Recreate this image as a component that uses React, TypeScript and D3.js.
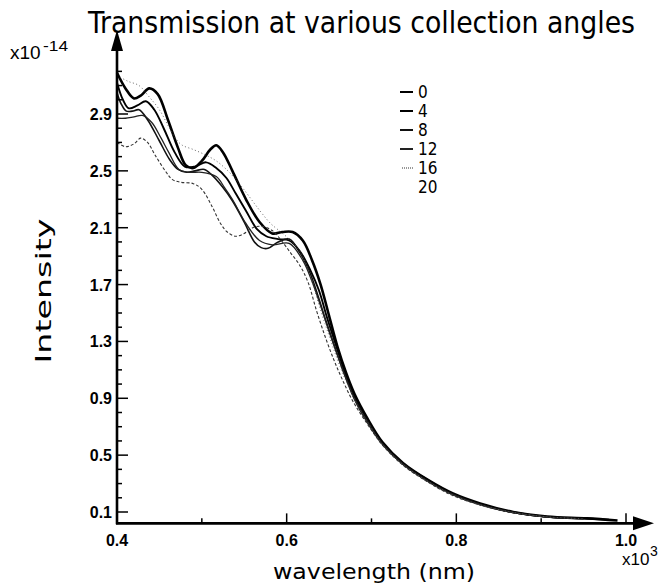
import React from "react";
import * as d3 from "d3";

const angles = ["0", "4", "8", "12", "16", "20"];

const wl0 = [0.4, 0.41, 0.42, 0.428, 0.438, 0.448, 0.46, 0.472, 0.481, 0.49, 0.5, 0.51, 0.517, 0.525, 0.536, 0.552, 0.568, 0.583, 0.595, 0.607, 0.619, 0.63, 0.64, 0.65, 0.66, 0.67, 0.68, 0.695, 0.713, 0.737, 0.768, 0.796, 0.828, 0.867, 0.907, 0.954, 0.99];
const int0 = [3.19, 3.08, 3.01, 3.03, 3.08, 3.04, 2.86, 2.66, 2.54, 2.52, 2.57, 2.65, 2.68, 2.63, 2.5, 2.3, 2.14, 2.06, 2.07, 2.07, 2.01, 1.87, 1.7, 1.48, 1.26, 1.08, 0.93, 0.76, 0.59, 0.445, 0.32, 0.23, 0.16, 0.1, 0.068, 0.055, 0.04];

const wl4 = [0.4, 0.407, 0.414, 0.424, 0.434, 0.444, 0.455, 0.468, 0.48, 0.492, 0.505, 0.517, 0.529, 0.54, 0.552, 0.565, 0.576, 0.59, 0.603, 0.615, 0.628, 0.638, 0.648, 0.66, 0.67, 0.68, 0.695, 0.713, 0.737, 0.768, 0.796, 0.828, 0.867, 0.907, 0.954, 0.98];
const int4 = [3.12, 3.0, 2.94, 2.96, 2.99, 2.93, 2.8, 2.63, 2.53, 2.53, 2.56, 2.52, 2.45, 2.34, 2.22, 2.09, 2.04, 2.02, 2.01, 1.94, 1.8, 1.66, 1.46, 1.24, 1.06, 0.92, 0.75, 0.58, 0.44, 0.32, 0.225, 0.155, 0.098, 0.066, 0.054, 0.045];

const wl8 = [0.4, 0.405, 0.411, 0.418, 0.426, 0.436, 0.45, 0.462, 0.472, 0.482, 0.492, 0.503, 0.512, 0.524, 0.536, 0.55, 0.562, 0.57, 0.578, 0.59, 0.603, 0.615, 0.627, 0.637, 0.646, 0.658, 0.668, 0.68, 0.695, 0.713, 0.737, 0.768, 0.796, 0.828, 0.867, 0.907, 0.95];
const int8 = [3.05, 2.97, 2.92, 2.92, 2.93, 2.86, 2.71, 2.58, 2.51, 2.49, 2.5, 2.51, 2.47, 2.39, 2.29, 2.14, 2.0, 1.96, 1.955, 2.0, 2.02, 1.93, 1.79, 1.62, 1.45, 1.24, 1.07, 0.9, 0.74, 0.58, 0.44, 0.31, 0.225, 0.155, 0.098, 0.066, 0.052];

const wl12 = [0.4, 0.41, 0.42, 0.43, 0.441, 0.452, 0.461, 0.473, 0.485, 0.5, 0.517, 0.527, 0.536, 0.552, 0.568, 0.583, 0.603, 0.619, 0.63, 0.64, 0.65, 0.66, 0.67, 0.68, 0.695, 0.713, 0.737, 0.768, 0.796, 0.828, 0.867, 0.907, 0.94];
const int12 = [2.87, 2.87, 2.88, 2.89, 2.84, 2.73, 2.63, 2.51, 2.49, 2.49, 2.46, 2.38, 2.3, 2.13, 2.01, 1.98, 1.99, 1.87, 1.72, 1.55, 1.37, 1.2, 1.04, 0.89, 0.73, 0.575, 0.435, 0.31, 0.22, 0.15, 0.095, 0.064, 0.055];

const wl16 = [0.4, 0.41, 0.42, 0.428, 0.436, 0.445, 0.458, 0.465, 0.475, 0.49, 0.5, 0.512, 0.522, 0.53, 0.54, 0.55, 0.56, 0.57, 0.583, 0.595, 0.605, 0.615, 0.625, 0.635, 0.645, 0.655, 0.665, 0.678, 0.695, 0.713, 0.737, 0.768, 0.796, 0.828, 0.867, 0.907];
const int16 = [2.7, 2.67, 2.69, 2.73, 2.7, 2.61, 2.49, 2.44, 2.42, 2.41, 2.37, 2.25, 2.13, 2.07, 2.04, 2.06, 2.1, 2.11, 2.08, 2.0, 1.92, 1.84, 1.72, 1.52, 1.34, 1.18, 1.04, 0.88, 0.72, 0.57, 0.43, 0.305, 0.215, 0.15, 0.095, 0.065];

const wl20 = [0.4, 0.413, 0.426, 0.438, 0.45, 0.461, 0.47, 0.477, 0.49, 0.505, 0.517, 0.529, 0.54, 0.552, 0.562, 0.571, 0.581, 0.591, 0.603, 0.615, 0.622, 0.63, 0.64, 0.65, 0.66, 0.67, 0.682, 0.697, 0.713, 0.737, 0.768, 0.796, 0.828, 0.867, 0.907, 0.95];
const int20 = [3.17, 3.13, 3.1, 3.02, 2.93, 2.81, 2.72, 2.68, 2.65, 2.61, 2.57, 2.51, 2.44, 2.35, 2.27, 2.2, 2.13, 2.08, 2.02, 1.94, 1.86, 1.72, 1.52, 1.34, 1.17, 1.02, 0.87, 0.72, 0.575, 0.435, 0.31, 0.22, 0.15, 0.097, 0.066, 0.053];

const yTickLabels = ["0.1", "0.5", "0.9", "1.3", "1.7", "2.1", "2.5", "2.9"];
const xTickLabels = ["0.4", "0.6", "0.8", "1.0"];

const seriesWl = [wl0, wl4, wl8, wl12, wl16, wl20];
const seriesInt = [int0, int4, int8, int12, int16, int20];

const styles = [
  { w: 2.6, dash: "", color: "#000" },
  { w: 1.9, dash: "", color: "#000" },
  { w: 1.6, dash: "", color: "#111" },
  { w: 1.3, dash: "", color: "#222" },
  { w: 1.1, dash: "3,2", color: "#333" },
  { w: 0.9, dash: "1,2.5", color: "#555" },
];

export default function App() {
  const W = 670, H = 587;
  const x = d3.scaleLinear().domain([0.4, 1.0]).range([117, 626]);
  const y = d3.scaleLinear().domain([0.1, 2.9]).range([512, 114]);
  const x0 = x(0.4);
  const yBase = y(0.02);
  const line = d3
    .line<[number, number]>()
    .x((d) => x(d[0]))
    .y((d) => y(d[1]))
    .curve(d3.curveCatmullRom.alpha(0.5));

  const yMinor = d3.range(1, 33).map((i) => i / 10);
  const xMinor = [0.5, 0.7, 0.9];
  const tickFont = "'Liberation Sans', Arial, sans-serif";
  const textFont = "'DejaVu Sans Condensed', 'DejaVu Sans', sans-serif";

  return (
    <svg width={W} height={H} style={{ position: "absolute", left: 0, top: 0, background: "#fff" }}>
      <rect x={0} y={0} width={W} height={H} fill="#fff" />
      <text x={88} y={33} fontFamily={textFont} fontSize={30} textLength={547} lengthAdjust="spacingAndGlyphs" fill="#000">
        Transmission at various collection angles
      </text>

      {/* curves */}
      {seriesWl.map((wl, i) => {
        const pts: [number, number][] = wl.map((w, j) => [w, seriesInt[i][j]]);
        return (
          <path key={i} d={line(pts) || ""} fill="none" stroke={styles[i].color} strokeWidth={styles[i].w} strokeDasharray={styles[i].dash} strokeLinejoin="round" />
        );
      })}

      {/* y axis */}
      <line x1={x0} x2={x0} y1={yBase + 1} y2={44} stroke="#000" strokeWidth={2.6} />
      <path d={`M${x0},30 L${x0 - 6},51 L${x0 + 6},51 Z`} fill="#000" />
      {yMinor.map((v) => {
        const major = yTickLabels.includes(v.toFixed(1));
        return <line key={v} x1={x0} x2={x0 + (major ? 11 : 5)} y1={y(v)} y2={y(v)} stroke="#000" strokeWidth={1.5} />;
      })}
      {yTickLabels.map((t) => (
        <text key={t} x={x0 - 5} y={y(+t) + 6} textAnchor="end" fontFamily={tickFont} fontWeight="bold" fontSize={16} fill="#000">
          {t}
        </text>
      ))}

      {/* x axis */}
      <line x1={x0 - 1} x2={640} y1={yBase} y2={yBase} stroke="#000" strokeWidth={2.6} />
      <path d={`M654,${yBase} L633,${yBase - 7} L633,${yBase + 7} Z`} fill="#000" />
      {xTickLabels.slice(1).map((t) => (
        <line key={t} x1={x(+t)} x2={x(+t)} y1={yBase} y2={yBase - 10} stroke="#000" strokeWidth={1.5} />
      ))}
      {xMinor.map((v) => (
        <line key={v} x1={x(v)} x2={x(v)} y1={yBase} y2={yBase - 5} stroke="#000" strokeWidth={1.5} />
      ))}
      {xTickLabels.map((t) => (
        <text key={t} x={x(+t)} y={546} textAnchor="middle" fontFamily={tickFont} fontWeight="bold" fontSize={16} fill="#000">
          {t}
        </text>
      ))}

      {/* exponents */}
      <text x={10} y={59} fontFamily={tickFont} fontSize={19} fill="#000">
        x10
      </text>
      <text x={43} y={51} fontFamily={tickFont} fontSize={14} textLength={25} lengthAdjust="spacingAndGlyphs" fill="#000">
        -14
      </text>
      <text x={622} y={565} fontFamily={tickFont} fontSize={17} fill="#000">
        x10
      </text>
      <text x={650} y={556} fontFamily={tickFont} fontSize={14} fill="#000">
        3
      </text>

      {/* axis titles */}
      <text x={273} y={579} fontFamily={textFont} fontSize={22} textLength={202} lengthAdjust="spacingAndGlyphs" fill="#000">
        wavelength  (nm)
      </text>
      <text transform="translate(51,291) rotate(-90)" textAnchor="middle" fontFamily={textFont} fontSize={22} textLength={145} lengthAdjust="spacingAndGlyphs" fill="#000">
        Intensity
      </text>

      {/* legend */}
      {angles.map((a, i) => {
        const ly = 92 + i * 19;
        return (
          <g key={a}>
            {i < 5 && (
              <line x1={i === 4 ? 402 : 400} x2={413} y1={ly} y2={ly} stroke={styles[i].color} strokeWidth={i < 4 ? 2 : 1} strokeDasharray={i === 4 ? "1,1" : ""} />
            )}
            <text x={418} y={ly + 6} fontFamily={textFont} fontSize={17} fill="#000">
              {a}
            </text>
          </g>
        );
      })}
    </svg>
  );
}
